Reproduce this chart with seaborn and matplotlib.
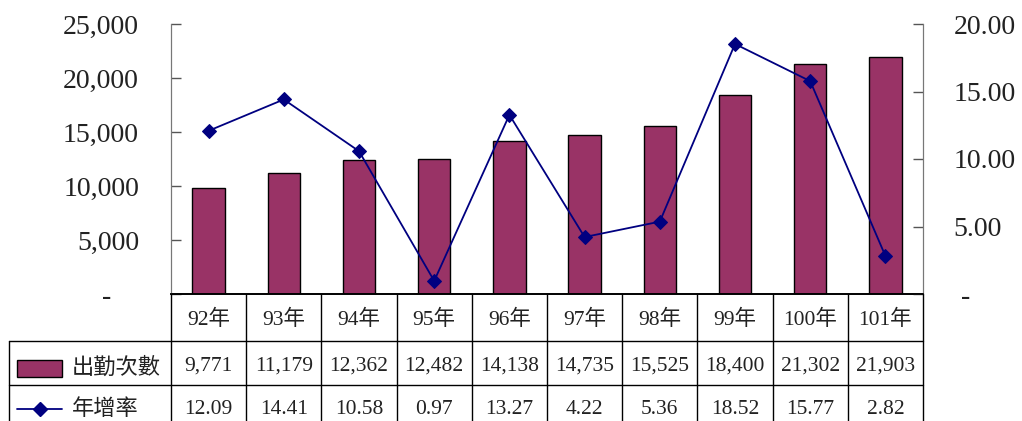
import matplotlib.pyplot as plt
import matplotlib.ticker as mticker
from matplotlib.lines import Line2D
from matplotlib.patches import Rectangle
import numpy as np
import pandas as pd
import seaborn as sns

# data
years = ['92年', '93年', '94年', '95年', '96年', '97年', '98年', '99年', '100年', '101年']
attendance = [9771, 11179, 12362, 12482, 14138, 14735, 15525, 18400, 21302, 21903]
growth = [12.09, 14.41, 10.58, 0.97, 13.27, 4.22, 5.36, 18.52, 15.77, 2.82]
bar_label = '出勤次數'
line_label = '年增率'

bar_color = '#993366'
line_color = '#000080'

sns.set_style('white')
plt.rcParams['font.family'] = ['Liberation Serif', 'Noto Sans CJK TC']

df = pd.DataFrame({'year': years, 'count': attendance, 'rate': growth, 'pos': np.arange(len(years))})

W, H = 1022, 421
fig = plt.figure(figsize=(W / 100, H / 100), dpi=100)
left, right, top, bottom = 171, 923, 24, 294
ax = fig.add_axes([left / W, 1 - bottom / H, (right - left) / W, (bottom - top) / H])

sns.barplot(data=df, x='year', y='count', color=bar_color, width=0.43,
            edgecolor='black', linewidth=1.0, saturation=1, ax=ax)
ax.set_xlim(-0.5, len(years) - 0.5)
ax.set_ylim(0, 25000)
ax.set_yticks([0, 5000, 10000, 15000, 20000, 25000])
# zero shown as a dash, like an accounting format
ax.yaxis.set_major_formatter(mticker.FuncFormatter(lambda v, p: '-    ' if v == 0 else f'{v:,.0f}'))
ax.tick_params(axis='y', direction='in', length=7, width=1, colors='#555555',
               labelsize=20, labelcolor='#222222', pad=23)
ax.set_xticks([])
ax.set_xlabel('')
ax.set_ylabel('')

ax2 = ax.twinx()
sns.lineplot(data=df, x='pos', y='rate', color=line_color, marker='D', markersize=7,
             markeredgecolor=line_color, linewidth=1.3, ax=ax2)
ax2.set_ylim(0, 20)
ax2.set_yticks([0, 5, 10, 15, 20])
ax2.yaxis.set_major_formatter(mticker.FuncFormatter(lambda v, p: ' -' if v == 0 else f'{v:.2f}'))
ax2.tick_params(axis='y', direction='in', length=7, width=1, colors='#555555',
                labelsize=20, labelcolor='#222222', pad=22)
ax2.set_xlabel('')
ax2.set_ylabel('')

for a in (ax, ax2):
    a.spines['top'].set_visible(False)
    a.spines['left'].set_color('#777777')
    a.spines['right'].set_color('#777777')
    a.spines['bottom'].set_color('black')
    a.spines['bottom'].set_linewidth(1.2)

# data table under the chart
def fy(py):
    return 1 - py / H

def fx(px):
    return px / W

col_w = (right - left) / len(years)
tc = '#222222'
lc = 'black'
lines = []
# vertical lines
for k in range(len(years) + 1):
    x = left + k * col_w
    lines.append(((x, x), (bottom, H + 5)))
# horizontal lines
lines.append(((9, right), (341, 341)))
lines.append(((9, right), (385, 385)))
lines.append(((9, 9), (341, H + 5)))
for (xs, ys) in lines:
    fig.add_artist(Line2D([fx(xs[0]), fx(xs[1])], [fy(ys[0]), fy(ys[1])], color=lc, linewidth=1.0))

for k, yr in enumerate(years):
    cx = fx(left + (k + 0.5) * col_w)
    fig.text(cx, fy(320), yr, ha='center', va='center', fontsize=15.5, color=tc)
    fig.text(cx, fy(366), f'{attendance[k]:,}', ha='center', va='center', fontsize=15.5, color=tc)
    fig.text(cx, fy(409), f'{growth[k]:.2f}', ha='center', va='center', fontsize=15.5, color=tc)

# legend keys in the header column
fig.add_artist(Rectangle((fx(17), fy(377)), fx(62) - fx(17), fy(360) - fy(377),
                         facecolor=bar_color, edgecolor='black', linewidth=1.0))
fig.text(fx(72), fy(368), bar_label, ha='left', va='center', fontsize=16, color=tc)
fig.add_artist(Line2D([fx(17), fx(62)], [fy(409), fy(409)], color=line_color, linewidth=1.3))
fig.add_artist(Line2D([fx(39.5)], [fy(409)], color=line_color, marker='D', markersize=7, linestyle='none'))
fig.text(fx(72), fy(410), line_label, ha='left', va='center', fontsize=16, color=tc)

fig.savefig('out.png', dpi=100)
